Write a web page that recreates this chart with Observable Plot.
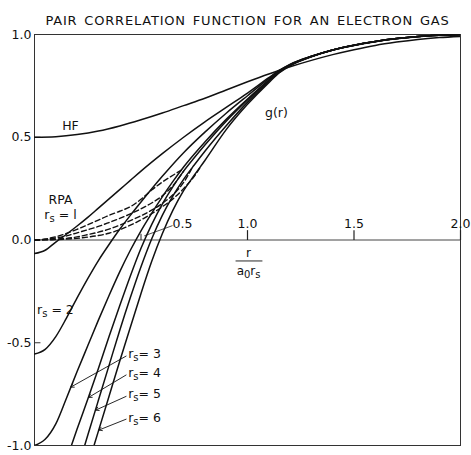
<!DOCTYPE html>
<html><head><meta charset="utf-8">
<script src="https://cdn.jsdelivr.net/npm/d3@7"></script>
<script src="https://cdn.jsdelivr.net/npm/@observablehq/plot@0.6"></script>
<style>body{margin:0;background:#fff}</style>
</head><body><div id="chart"></div>
<script>
const title = "PAIR CORRELATION FUNCTION FOR AN ELECTRON GAS";

// Hartree-Fock curve
const hf = [[0,0.5],[0.1,0.503],[0.2,0.513],[0.3,0.53],[0.4,0.555],[0.5,0.585],[0.6,0.618],[0.7,0.654],[0.8,0.69],[0.9,0.73],[1.0,0.77],[1.1,0.808],[1.2,0.843],[1.3,0.874],[1.4,0.902],[1.5,0.926],[1.6,0.947],[1.7,0.963],[1.8,0.976],[1.9,0.985],[2.0,0.991]];
// RPA curves
const rs1 = [[0,-0.066],[0.05,-0.05],[0.1,-0.01],[0.15,0.028],[0.2,0.068],[0.25,0.11],[0.3,0.155],[0.35,0.2],[0.4,0.245],[0.45,0.29],[0.5,0.335],[0.6,0.42],[0.7,0.5],[0.8,0.575],[0.9,0.645],[1.0,0.715],[1.1,0.79],[1.15,0.826],[1.2,0.855],[1.3,0.894],[1.4,0.925],[1.5,0.947],[1.6,0.965],[1.7,0.979],[1.8,0.989],[1.9,0.996],[2.0,0.999]];
const rs2 = [[0,-0.555],[0.05,-0.532],[0.1,-0.47],[0.15,-0.38],[0.2,-0.282],[0.25,-0.188],[0.3,-0.1],[0.35,-0.022],[0.4,0.052],[0.45,0.12],[0.5,0.185],[0.6,0.31],[0.7,0.425],[0.8,0.525],[0.9,0.617],[1.0,0.702],[1.1,0.785],[1.15,0.824],[1.2,0.854],[1.3,0.894],[1.4,0.925],[1.5,0.948],[1.6,0.966],[1.7,0.98],[1.8,0.99],[1.9,0.996],[2.0,1.0]];
const rs3 = [[0,-1.0],[0.05,-0.97],[0.1,-0.895],[0.15,-0.77],[0.2,-0.64],[0.25,-0.515],[0.3,-0.39],[0.35,-0.27],[0.4,-0.155],[0.45,-0.05],[0.5,0.045],[0.55,0.13],[0.6,0.21],[0.65,0.285],[0.7,0.355],[0.8,0.477],[0.9,0.587],[1.0,0.686],[1.1,0.778],[1.15,0.82],[1.2,0.852],[1.3,0.893],[1.4,0.925],[1.5,0.948],[1.6,0.966],[1.7,0.98],[1.8,0.99],[1.9,0.996],[2.0,1.0]];
const rs4 = [[0.1,-1.22],[0.15,-1.07],[0.2,-0.92],[0.25,-0.775],[0.3,-0.625],[0.35,-0.47],[0.4,-0.32],[0.45,-0.175],[0.5,-0.04],[0.55,0.075],[0.6,0.175],[0.65,0.26],[0.7,0.335],[0.75,0.4],[0.8,0.462],[0.9,0.578],[1.0,0.681],[1.1,0.776],[1.15,0.819],[1.2,0.851],[1.3,0.893],[1.4,0.925],[1.5,0.948],[1.6,0.966],[1.7,0.98],[1.8,0.99],[1.9,0.996],[2.0,1.0]];
const rs5 = [[0.15,-1.25],[0.2,-1.12],[0.25,-0.95],[0.3,-0.78],[0.35,-0.61],[0.4,-0.44],[0.45,-0.28],[0.5,-0.13],[0.55,0.005],[0.6,0.12],[0.65,0.215],[0.7,0.295],[0.75,0.365],[0.8,0.432],[0.9,0.556],[1.0,0.671],[1.1,0.772],[1.15,0.817],[1.2,0.85],[1.3,0.893],[1.4,0.925],[1.5,0.948],[1.6,0.966],[1.7,0.98],[1.8,0.99],[1.9,0.996],[2.0,1.0]];
const rs6 = [[0.2,-1.26],[0.25,-1.1],[0.3,-0.93],[0.35,-0.76],[0.4,-0.59],[0.45,-0.425],[0.5,-0.26],[0.55,-0.105],[0.6,0.03],[0.65,0.145],[0.7,0.24],[0.75,0.315],[0.8,0.387],[0.9,0.537],[1.0,0.66],[1.1,0.766],[1.15,0.814],[1.2,0.848],[1.3,0.892],[1.4,0.925],[1.5,0.948],[1.6,0.966],[1.7,0.98],[1.8,0.99],[1.9,0.996],[2.0,1.0]];
// dashed small-r curves
const dash1 = [[0,0],[0.05,0.005],[0.1,0.016],[0.15,0.032],[0.2,0.052],[0.25,0.074],[0.3,0.097],[0.35,0.12],[0.4,0.14],[0.45,0.162],[0.5,0.198],[0.55,0.243],[0.6,0.282],[0.65,0.315],[0.69,0.341]];
const dash2 = [[0,0],[0.05,0.003],[0.1,0.01],[0.15,0.02],[0.2,0.035],[0.25,0.05],[0.3,0.066],[0.35,0.085],[0.4,0.105],[0.45,0.127],[0.5,0.152],[0.55,0.18],[0.6,0.215],[0.65,0.265],[0.7,0.335]];
const dash3 = [[0,0],[0.1,0.004],[0.2,0.015],[0.25,0.026],[0.3,0.038],[0.35,0.053],[0.4,0.072],[0.45,0.094],[0.5,0.118],[0.55,0.145],[0.6,0.178],[0.65,0.22],[0.7,0.28],[0.74,0.351]];
const dash4 = [[0,0],[0.1,0.002],[0.2,0.008],[0.25,0.014],[0.3,0.022],[0.35,0.033],[0.4,0.05],[0.45,0.072],[0.5,0.098],[0.55,0.128],[0.6,0.162],[0.65,0.2],[0.7,0.25],[0.75,0.31],[0.78,0.357]];

// axes
const yTicks = [-1, -0.5, 0, 0.5, 1];
const yTickLabels = ["-1.0", "-0.5", "0.0", "0.5", "1.0"];
const xTicks = [1.0, 1.5, 2.0];
const xTickLabels = ["1.0", "1.5", "2.0"];
const halfTick = 0.5, halfLabel = "0.5", halfLabelPos = [0.695, 0.08], halfLeader = [[0.648, 0.07], [0.515, 0.02]];

// annotations
const centeredLabels = [
  {x: 0.169, y: 0.557, text: "HF"},
  {x: 1.136, y: 0.617, text: "g(r)"},
  {x: 0.122, y: 0.195, text: "RPA"},
  {x: 0.122, y: 0.12, text: "r_s = l"}
];
const leftLabels = [
  {x: 0.012, y: -0.343, text: "r_s = 2"},
  {x: 0.44, y: -0.553, text: "r_s= 3"},
  {x: 0.44, y: -0.646, text: "r_s= 4"},
  {x: 0.44, y: -0.75, text: "r_s= 5"},
  {x: 0.44, y: -0.864, text: "r_s= 6"}
];
const arrowFrom = [[0.43, -0.565], [0.43, -0.657], [0.43, -0.761], [0.43, -0.872]];
const arrowTo = [[0.17, -0.716], [0.254, -0.766], [0.287, -0.828], [0.302, -0.925]];
const axisLabelNum = {x: 1.005, y: -0.063, text: "r"};
const axisLabelDen = {x: 1.005, y: -0.152, text: "a_0r_s"};
const axisLabelBar = [[0.944, -0.102], [1.07, -0.102]];

const solid = [["HF", hf], ["1", rs1], ["2", rs2], ["3", rs3], ["4", rs4], ["5", rs5], ["6", rs6]]
  .flatMap(([s, pts]) => pts.map(([x, y]) => ({s, x, y})));
const dashed = [["d1", dash1], ["d2", dash2], ["d3", dash3], ["d4", dash4]]
  .flatMap(([s, pts]) => pts.map(([x, y]) => ({s, x, y})));

const F = "DejaVu Sans, sans-serif";
const chart = Plot.plot({
  width: 471, height: 455,
  marginLeft: 34, marginRight: 11, marginTop: 34, marginBottom: 10,
  x: {domain: [0, 2], axis: null},
  y: {domain: [-1, 1], axis: null},
  style: {fontFamily: F, fontSize: "12px", background: "#fff", color: "#111"},
  marks: [
    Plot.frame({stroke: "#333", strokeWidth: 1}),
    Plot.ruleY([0], {stroke: "#444", strokeWidth: 1}),
    // inward y ticks
    Plot.link(yTicks, {x1: () => 0, x2: () => 0.028, y1: d => d, y2: d => d, stroke: "#333"}),
    Plot.text(yTicks, {x: () => 0, y: d => d, text: (d, i) => yTickLabels[i], textAnchor: "end", dx: -3, fontSize: 12.5, fill: "#111"}),
    // x ticks on the zero line
    Plot.link(xTicks, {x1: d => d, x2: d => d, y1: () => 0, y2: () => 0.048, stroke: "#222", strokeWidth: 1.2}),
    Plot.text(xTicks, {x: d => d, y: () => 0, dy: -16, text: (d, i) => xTickLabels[i], fontSize: 12.5, fill: "#111"}),
    Plot.link([halfTick], {x1: d => d, x2: d => d, y1: () => 0, y2: () => 0.03, stroke: "#222"}),
    Plot.link([halfLeader], {x1: d => d[0][0], y1: d => d[0][1], x2: d => d[1][0], y2: d => d[1][1], stroke: "#222", strokeWidth: 0.8}),
    Plot.text([halfLabel], {x: () => halfLabelPos[0], y: () => halfLabelPos[1], text: d => d, fontSize: 12.5, fill: "#111"}),
    // curves
    Plot.line(dashed, {x: "x", y: "y", z: "s", stroke: "#111", strokeWidth: 1.4, strokeDasharray: "5,3", curve: "monotone-x", clip: true}),
    Plot.line(solid, {x: "x", y: "y", z: "s", stroke: "#111", strokeWidth: 1.5, curve: "monotone-x", clip: true}),
    // labels
    Plot.text(centeredLabels, {x: "x", y: "y", text: "text", textAnchor: "middle", fontSize: 12.5, fill: "#111"}),
    Plot.text(leftLabels, {x: "x", y: "y", text: "text", textAnchor: "start", fontSize: 12.5, fill: "#111"}),
    Plot.arrow(arrowFrom.map((f, i) => ({f, t: arrowTo[i]})), {x1: d => d.f[0], y1: d => d.f[1], x2: d => d.t[0], y2: d => d.t[1], stroke: "#111", strokeWidth: 0.9, headLength: 6, bend: false}),
    Plot.text([axisLabelNum, axisLabelDen], {x: "x", y: "y", text: "text", fontSize: 12, fill: "#111"}),
    Plot.link([axisLabelBar], {x1: d => d[0][0], y1: d => d[0][1], x2: d => d[1][0], y2: d => d[1][1], stroke: "#111", strokeWidth: 0.9}),
    // title
    Plot.text([title], {frameAnchor: "top", dy: -19, text: d => d, fontSize: 13, fill: "#111"})
  ]
});

// subscripts and title spacing
const NS = "http://www.w3.org/2000/svg";
chart.querySelectorAll("text").forEach(t => {
  const s = t.textContent;
  if (s === title) { t.style.letterSpacing = "0.8px"; t.style.wordSpacing = "2px"; return; }
  if (!s.includes("_")) return;
  t.textContent = "";
  const parts = s.split(/(_.)/).filter(p => p.length);
  let prevSub = false;
  parts.forEach(p => {
    const sp = document.createElementNS(NS, "tspan");
    if (p[0] === "_") {
      sp.textContent = p[1];
      sp.setAttribute("dy", "3");
      sp.setAttribute("font-size", "10");
      prevSub = true;
    } else {
      sp.textContent = p;
      if (prevSub) sp.setAttribute("dy", "-3");
      prevSub = false;
    }
    t.appendChild(sp);
  });
});
document.getElementById("chart").appendChild(chart);
</script>
</body></html>
